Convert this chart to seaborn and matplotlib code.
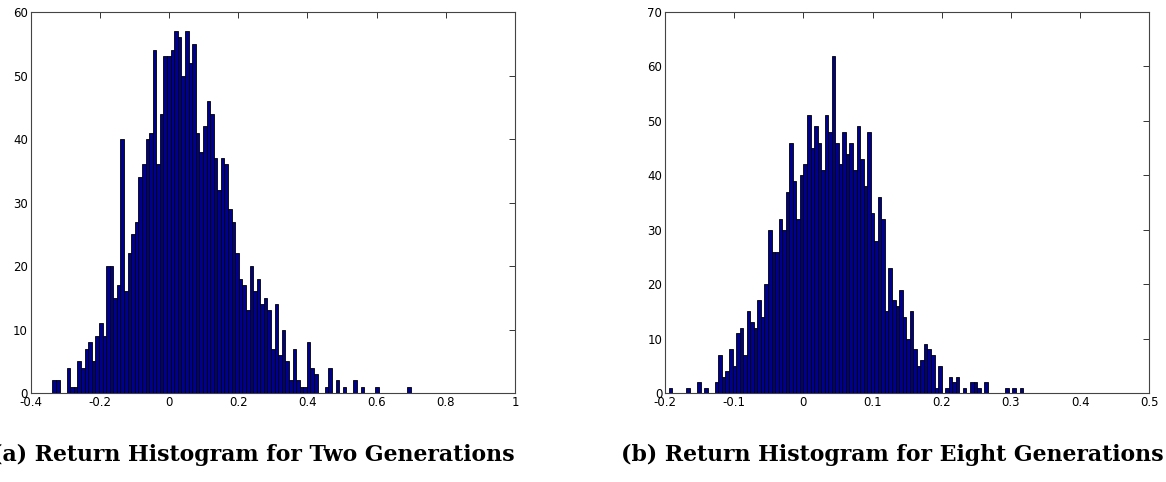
import numpy as np
import pandas as pd
import matplotlib
matplotlib.use("Agg")
import matplotlib.pyplot as plt
import seaborn as sns

# Bin counts (100 bins each, 1700 samples)
two_gen_range = (-0.337, 0.699)
two_gen_counts = [
    2, 2, 0, 0, 4, 1, 1, 5, 4, 7, 8, 5, 9, 11, 9, 20, 20, 15, 17, 40,
    16, 22, 25, 27, 34, 36, 40, 41, 54, 36, 44, 53, 53, 54, 57, 56, 50, 57, 52, 55,
    41, 38, 42, 46, 44, 37, 32, 37, 36, 29, 27, 22, 18, 17, 13, 20, 16, 18, 14, 15,
    13, 7, 14, 6, 10, 5, 2, 7, 2, 1, 1, 8, 4, 3, 0, 0, 1, 4, 0, 2,
    0, 1, 0, 0, 2, 0, 1, 0, 0, 0, 1, 0, 0, 0, 0, 0, 0, 0, 0, 1,
]

eight_gen_range = (-0.1945, 0.3176)
eight_gen_counts = [
    1, 0, 0, 0, 0, 1, 0, 0, 2, 0, 1, 0, 0, 2, 7, 3, 4, 8, 5, 11,
    12, 7, 15, 13, 12, 17, 14, 20, 30, 26, 26, 32, 30, 37, 46, 39, 32, 40, 42, 51,
    45, 49, 46, 41, 51, 48, 62, 46, 42, 48, 44, 46, 41, 49, 43, 38, 48, 33, 28, 36,
    32, 15, 23, 17, 16, 19, 14, 10, 15, 8, 5, 6, 9, 8, 7, 1, 5, 0, 1, 3,
    2, 3, 0, 1, 0, 2, 2, 1, 0, 2, 0, 0, 0, 0, 0, 1, 0, 1, 0, 1,
]

left_xticks = [-0.4, -0.2, 0, 0.2, 0.4, 0.6, 0.8, 1]
left_xlabels = ["-0.4", "-0.2", "0", "0.2", "0.4", "0.6", "0.8", "1"]
right_xticks = [-0.2, -0.1, 0, 0.1, 0.2, 0.3, 0.4, 0.5]
right_xlabels = ["-0.2", "-0.1", "0", "0.1", "0.2", "0.3", "0.4", "0.5"]
left_yticks = [0, 10, 20, 30, 40, 50, 60]
right_yticks = [0, 10, 20, 30, 40, 50, 60, 70]

captions = ["(a) Return Histogram for Two Generations",
            "(b) Return Histogram for Eight Generations"]

sns.set_style("white")
plt.rcParams['font.family'] = ['DejaVu Sans']

fig = plt.figure(figsize=(11.66, 4.82), dpi=100)
ax1 = fig.add_axes([0.0262, 0.1846, 0.4155, 0.7905])
ax2 = fig.add_axes([0.5703, 0.1846, 0.4154, 0.7905])

panels = [
    (ax1, two_gen_range, two_gen_counts, left_xticks, left_xlabels, left_yticks, (-0.4, 1)),
    (ax2, eight_gen_range, eight_gen_counts, right_xticks, right_xlabels, right_yticks, (-0.2, 0.5)),
]

for ax, rng, counts, xt, xl, yt, xlim in panels:
    nbins = len(counts)
    width = (rng[1] - rng[0]) / nbins
    centers = rng[0] + width * (np.arange(nbins) + 0.5)
    df = pd.DataFrame({"x": centers, "n": counts})
    sns.histplot(data=df, x="x", weights="n", bins=nbins, binrange=rng, ax=ax,
                 color="#00008f", edgecolor="black", linewidth=0.6, alpha=1)
    ax.set_xlim(*xlim)
    ax.set_ylim(yt[0], yt[-1])
    ax.set_xticks(xt)
    ax.set_xticklabels(xl)
    ax.set_yticks(yt)
    ax.set_xlabel("")
    ax.set_ylabel("")
    ax.tick_params(direction="in", length=4, width=0.7, top=True, right=True,
                   labelsize=8.5, labelcolor="black", pad=2, color="#333333")
    for s in ax.spines.values():
        s.set_color("#444444")
        s.set_linewidth(0.8)

fig.text(0.217, 0.056, captions[0], ha="center", va="center", color="black",
         fontsize=15.8, fontweight="bold", family="DejaVu Serif")
fig.text(0.765, 0.056, captions[1], ha="center", va="center", color="black",
         fontsize=15.8, fontweight="bold", family="DejaVu Serif")

fig.savefig("out.png", dpi=100)
